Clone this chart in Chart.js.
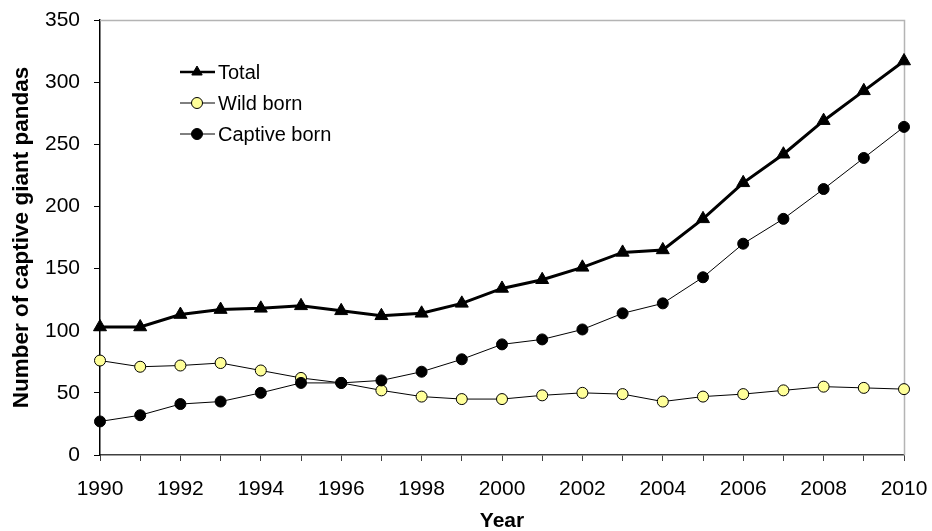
<!DOCTYPE html>
<html>
<head>
<meta charset="utf-8">
<script src="https://cdn.jsdelivr.net/npm/chart.js@4.4.0/dist/chart.umd.min.js"></script>
<style>
  html, body { margin: 0; padding: 0; background: #fff; }
  #wrap { width: 932px; height: 531px; position: relative; }
</style>
</head>
<body>
<div id="wrap"><canvas id="c" width="932" height="531"></canvas></div>
<script>
const years = ['1990','1991','1992','1993','1994','1995','1996','1997','1998','1999','2000','2001','2002','2003','2004','2005','2006','2007','2008','2009','2010'];
const totalVals   = [103,103,113,117,118,120,116,112,114,122,134,141,151,163,165,190,219,242,269,293,317];
const wildVals    = [76,71,72,74,68,62,58,52,47,45,45,48,50,49,43,47,49,52,55,54,53];
const captiveVals = [27,32,41,43,50,58,58,60,67,77,89,93,101,114,122,143,170,190,214,239,264];
const yTicks = [0,50,100,150,200,250,300,350];
const seriesNames = ['Total','Wild born','Captive born'];

Chart.defaults.font.family = '"Liberation Sans", Arial, sans-serif';
Chart.defaults.color = '#000';

const dsTotal = {
  label: seriesNames[0], data: totalVals,
  borderColor: '#000', borderWidth: 3, backgroundColor: '#000',
  pointStyle: 'triangle', pointRadius: 7.5, pointBorderWidth: 1,
  pointBackgroundColor: '#000', pointBorderColor: '#000', tension: 0
};
const dsWild = {
  label: seriesNames[1], data: wildVals,
  borderColor: '#000', borderWidth: 1, backgroundColor: '#FFFF99',
  pointStyle: 'circle', pointRadius: 5.5, pointBorderWidth: 1,
  pointBackgroundColor: '#FFFF99', pointBorderColor: '#000', tension: 0
};
const dsCaptive = {
  label: seriesNames[2], data: captiveVals,
  borderColor: '#000', borderWidth: 1, backgroundColor: '#000',
  pointStyle: 'circle', pointRadius: 5.5, pointBorderWidth: 1,
  pointBackgroundColor: '#000', pointBorderColor: '#000', tension: 0
};

const framePlugin = {
  id: 'frame',
  beforeDatasetsDraw(chart) {
    const {ctx, chartArea: a} = chart;
    ctx.save();
    ctx.strokeStyle = '#b4b4b4';
    ctx.lineWidth = 1.5;
    ctx.beginPath();
    ctx.moveTo(a.left, a.top + 0.5);
    ctx.lineTo(a.right + 0.5, a.top + 0.5);
    ctx.lineTo(a.right + 0.5, a.bottom);
    ctx.stroke();
    ctx.restore();
  }
};

const legendPlugin = {
  id: 'insideLegend',
  afterDatasetsDraw(chart) {
    const {ctx} = chart;
    const items = [dsTotal, dsWild, dsCaptive];
    const rowsY = [72, 103, 134];
    ctx.save();
    items.forEach((ds, i) => {
      const y = rowsY[i];
      ctx.strokeStyle = '#000';
      ctx.lineWidth = ds.borderWidth === 3 ? 2.5 : 1;
      ctx.beginPath();
      ctx.moveTo(180, y);
      ctx.lineTo(215, y);
      ctx.stroke();
      ctx.fillStyle = ds.pointBackgroundColor;
      ctx.strokeStyle = ds.pointBorderColor;
      ctx.lineWidth = 1;
      Chart.helpers.drawPoint(ctx, {
        pointStyle: ds.pointStyle,
        radius: ds.pointStyle === 'triangle' ? 6 : 5.5,
        borderWidth: 1, rotation: 0
      }, 197, y);
      ctx.fillStyle = '#000';
      ctx.font = '20px "Liberation Sans", Arial, sans-serif';
      ctx.textBaseline = 'middle';
      ctx.textAlign = 'left';
      ctx.fillText(ds.label, 218, y + 1);
    });
    ctx.restore();
  }
};

new Chart(document.getElementById('c'), {
  type: 'line',
  data: { labels: years, datasets: [dsTotal, dsCaptive, dsWild] },
  options: {
    responsive: false,
    animation: false,
    layout: { padding: { top: 20, right: 28, left: 0, bottom: 0 } },
    plugins: { legend: { display: false }, tooltip: { enabled: false } },
    scales: {
      x: {
        type: 'category',
        offset: false,
        afterFit(scale) { scale.height = 76; scale.paddingLeft = 0; scale.paddingRight = 0; },
        grid: { display: true, drawOnChartArea: false, drawTicks: true, tickLength: 6, color: '#404040', offset: false },
        border: { display: true, color: '#404040', width: 1.5 },
        ticks: {
          autoSkip: false, maxRotation: 0, minRotation: 0, padding: 16,
          font: { size: 21 }, color: '#000',
          callback(v, i) { const l = years[i]; return (parseInt(l) % 2 === 0) ? l : ''; }
        },
        title: { display: true, text: 'Year', font: { size: 21, weight: 'bold' }, padding: { top: 0, bottom: -3 }, color: '#000' }
      },
      y: {
        min: yTicks[0], max: yTicks[yTicks.length - 1],
        afterFit(scale) { scale.width = 100; scale.paddingTop = 0; scale.paddingBottom = 0; },
        afterBuildTicks(scale) { scale.ticks = yTicks.map(v => ({ value: v })); },
        grid: { display: true, drawOnChartArea: false, drawTicks: true, tickLength: 6, color: '#000' },
        border: { display: true, color: '#000', width: 1.5 },
        ticks: { padding: 14, font: { size: 21 }, color: '#000' },
        title: { display: true, text: 'Number of captive giant pandas', font: { size: 22.5, weight: 'bold' }, padding: { top: 8, bottom: 0 }, color: '#000' }
      }
    }
  },
  plugins: [framePlugin, legendPlugin]
});
</script>
</body>
</html>
